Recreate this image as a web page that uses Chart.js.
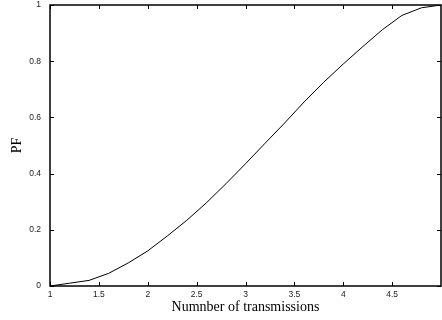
<!DOCTYPE html>
<html>
<head>
<meta charset="utf-8">
<script src="https://cdn.jsdelivr.net/npm/chart.js@4"></script>
<style>
  body { margin: 0; background: #fff; }
  canvas { display: block; }
</style>
</head>
<body>
<canvas id="pfChart" width="442" height="320"></canvas>
<script>
const transmissions = [1, 1.2, 1.4, 1.6, 1.8, 2, 2.2, 2.4, 2.6, 2.8, 3, 3.2, 3.4, 3.6, 3.8, 4, 4.2, 4.4, 4.6, 4.8, 5];
const pf = [0, 0.01, 0.02, 0.045, 0.082, 0.125, 0.178, 0.234, 0.296, 0.364, 0.435, 0.508, 0.58, 0.655, 0.725, 0.79, 0.852, 0.912, 0.963, 0.99, 1];
const xTicks = [1, 1.5, 2, 2.5, 3, 3.5, 4, 4.5];
const yTicks = [0, 0.2, 0.4, 0.6, 0.8, 1];

// box round the plot + tick marks pointing inwards on all four sides
const frame = {
  id: "frame",
  afterDraw(chart) {
    const { ctx, chartArea: a, scales } = chart;
    ctx.save();
    ctx.strokeStyle = "#000";
    ctx.lineWidth = 1;
    ctx.beginPath();
    xTicks.forEach(v => {
      const x = Math.round(scales.x.getPixelForValue(v)) + 0.5;
      ctx.moveTo(x, a.bottom); ctx.lineTo(x, a.bottom - 4);
      ctx.moveTo(x, a.top); ctx.lineTo(x, a.top + 4);
    });
    yTicks.forEach(v => {
      const y = Math.round(scales.y.getPixelForValue(v)) + 0.5;
      ctx.moveTo(a.left, y); ctx.lineTo(a.left + 4, y);
      ctx.moveTo(a.right, y); ctx.lineTo(a.right - 4, y);
    });
    ctx.stroke();
    ctx.lineWidth = 1.5;
    ctx.strokeRect(a.left, a.top, a.right - a.left, a.bottom - a.top);
    ctx.restore();
  }
};

const tickFont = { family: "'Liberation Sans', Arial, sans-serif", size: 8.5 };
const titleFont = { family: "'Liberation Serif', 'Times New Roman', serif", size: 14 };
const plain = v => String(v);

new Chart(document.getElementById("pfChart"), {
  type: "line",
  data: {
    datasets: [{
      data: transmissions.map((x, i) => ({ x, y: pf[i] })),
      borderColor: "#000",
      borderWidth: 1,
      pointRadius: 0,
      tension: 0,
      fill: false
    }]
  },
  options: {
    responsive: false,
    animation: false,
    layout: { padding: { top: 5, right: 1, left: 0, bottom: 0 } },
    plugins: { legend: { display: false }, tooltip: { enabled: false } },
    scales: {
      x: {
        type: "linear",
        min: 1,
        max: 5,
        grid: { display: false, drawTicks: false },
        border: { display: false },
        afterBuildTicks: s => { s.ticks = xTicks.map(value => ({ value })); },
        afterFit: s => { s.height = 34; s.paddingLeft = 0; s.paddingRight = 0; },
        ticks: { font: tickFont, color: "#222", padding: 4, maxRotation: 0, callback: plain },
        title: { display: true, text: "Numnber of transmissions", font: titleFont, color: "#000", padding: { top: 0, bottom: 4 } }
      },
      y: {
        type: "linear",
        min: 0,
        max: 1,
        grid: { display: false, drawTicks: false },
        border: { display: false },
        afterBuildTicks: s => { s.ticks = yTicks.map(value => ({ value })); },
        afterFit: s => { s.width = 50; s.paddingTop = 0; s.paddingBottom = 0; },
        ticks: { font: tickFont, color: "#222", padding: 9, callback: plain },
        title: { display: true, text: "PF", font: titleFont, color: "#000", padding: { top: 9, bottom: 0 } }
      }
    }
  },
  plugins: [frame]
});
</script>
</body>
</html>
